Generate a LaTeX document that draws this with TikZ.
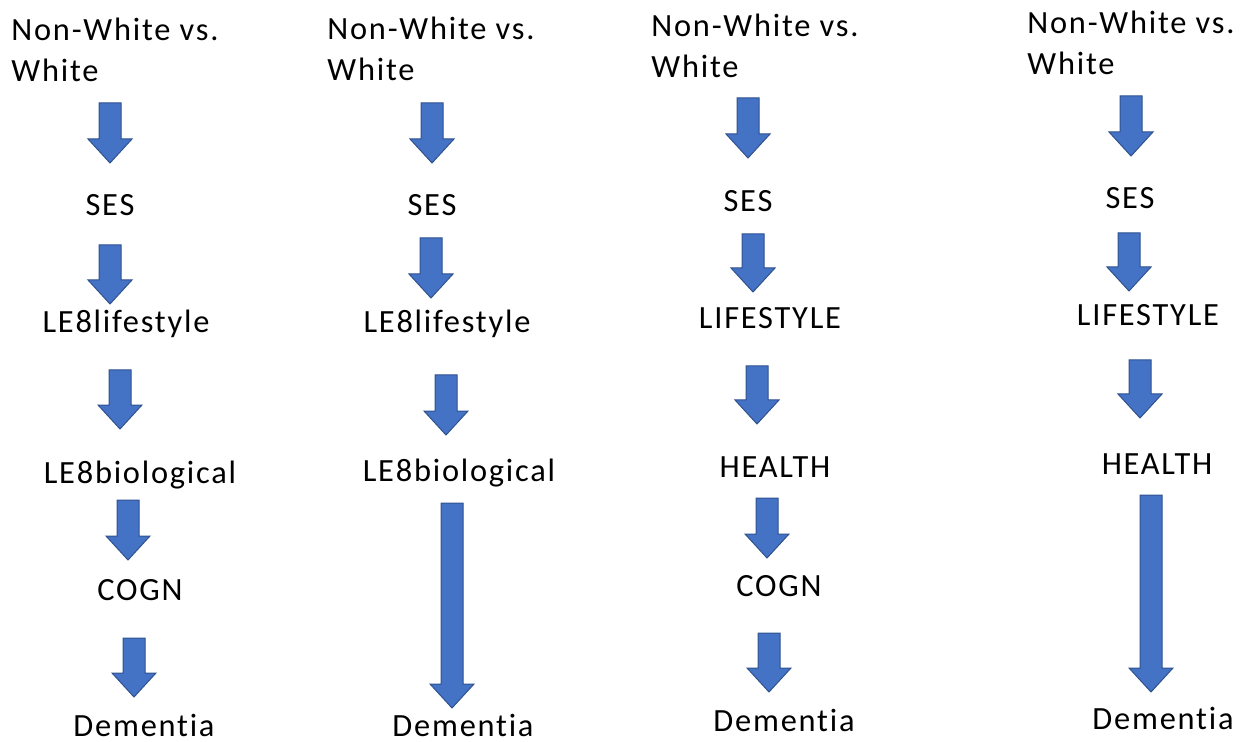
\documentclass[tikz,border=0pt]{standalone}
\usepackage{fontspec}
\setmainfont{Carlito}[LetterSpace=5.5,Ligatures=NoCommon]
\usetikzlibrary{calc}
\definecolor{arrfill}{HTML}{4472C4}
\definecolor{arrdraw}{HTML}{2F528F}
\tikzset{
  lbl/.style={anchor=base,inner sep=0pt,font=\fontsize{16.2pt}{18.5pt}\selectfont},
  head/.style={anchor=base west,inner sep=0pt,align=left,font=\fontsize{16.2pt}{20.5pt}\selectfont},
  arr/.style={fill=arrfill,draw=arrdraw,line width=0.5pt,line join=miter}
}
\newcommand\barrow[2]{%
  \draw[arr] let \p1=(#1), \p2=(#2) in
    (\x1-5.5pt,\y1) -- (\x1+5.5pt,\y1) -- (\x1+5.5pt,\y2+12pt) -- (\x1+11pt,\y2+12pt)
    -- (\x1,\y2) -- (\x1-11pt,\y2+12pt) -- (\x1-5.5pt,\y2+12pt) -- cycle;}
\begin{document}
\begin{tikzpicture}[x=0.5pt,y=-0.5pt]
\useasboundingbox (0,0) rectangle (1245,742);
% ---------- column 1
\node[head] (h1) at (11,82) {Non-White vs.\\White};
\node[lbl] (s1) at (110,216) {SES};
\node[lbl] (l1) at (126,333) {LE8lifestyle};
\node[lbl] (b1) at (140,483) {LE8biological};
\node[lbl] (c1) at (140,600) {COGN};
\node[lbl] (d1) at (144,736) {Dementia};
\coordinate (a1t) at (110,103); \coordinate (a1b) at (110,163);
\coordinate (a2t) at (110,245); \coordinate (a2b) at (110,304);
\coordinate (a3t) at (120,370); \coordinate (a3b) at (120,429);
\coordinate (a4t) at (128,500); \coordinate (a4b) at (128,560);
\coordinate (a5t) at (134,638); \coordinate (a5b) at (134,697);
\barrow{a1t}{a1b}\barrow{a2t}{a2b}\barrow{a3t}{a3b}\barrow{a4t}{a4b}\barrow{a5t}{a5b}
% ---------- column 2
\node[head] (h2) at (327,81) {Non-White vs.\\White};
\node[lbl] (s2) at (432,216) {SES};
\node[lbl] (l2) at (447,333) {LE8lifestyle};
\node[lbl] (b2) at (459,481) {LE8biological};
\node[lbl] (d2) at (463,736) {Dementia};
\coordinate (e1t) at (432,103); \coordinate (e1b) at (432,163);
\coordinate (e2t) at (431,238); \coordinate (e2b) at (431,298);
\coordinate (e3t) at (446,375); \coordinate (e3b) at (446,435);
\coordinate (e4t) at (452,503); \coordinate (e4b) at (452,708);
\barrow{e1t}{e1b}\barrow{e2t}{e2b}\barrow{e3t}{e3b}\barrow{e4t}{e4b}
% ---------- column 3
\node[head] (h3) at (651,78) {Non-White vs.\\White};
\node[lbl] (s3) at (748,212) {SES};
\node[lbl] (l3) at (770,329) {LIFESTYLE};
\node[lbl] (t3) at (775,477) {HEALTH};
\node[lbl] (c3) at (779,596) {COGN};
\node[lbl] (d3) at (784,731) {Dementia};
\coordinate (f1t) at (748,98); \coordinate (f1b) at (748,158);
\coordinate (f2t) at (753,234); \coordinate (f2b) at (753,292);
\coordinate (f3t) at (757,366); \coordinate (f3b) at (757,424);
\coordinate (f4t) at (767,498); \coordinate (f4b) at (767,558);
\coordinate (f5t) at (769,633); \coordinate (f5b) at (769,692);
\barrow{f1t}{f1b}\barrow{f2t}{f2b}\barrow{f3t}{f3b}\barrow{f4t}{f4b}\barrow{f5t}{f5b}
% ---------- column 4
\node[head] (h4) at (1027,75) {Non-White vs.\\White};
\node[lbl] (s4) at (1130,209) {SES};
\node[lbl] (l4) at (1148,326) {LIFESTYLE};
\node[lbl] (t4) at (1157,474) {HEALTH};
\node[lbl] (d4) at (1163,729) {Dementia};
\coordinate (g1t) at (1131,96); \coordinate (g1b) at (1131,156);
\coordinate (g2t) at (1129,233); \coordinate (g2b) at (1129,291);
\coordinate (g3t) at (1140,360); \coordinate (g3b) at (1140,418);
\coordinate (g4t) at (1151,495); \coordinate (g4b) at (1151,692);
\barrow{g1t}{g1b}\barrow{g2t}{g2b}\barrow{g3t}{g3b}\barrow{g4t}{g4b}
\end{tikzpicture}
\end{document}
